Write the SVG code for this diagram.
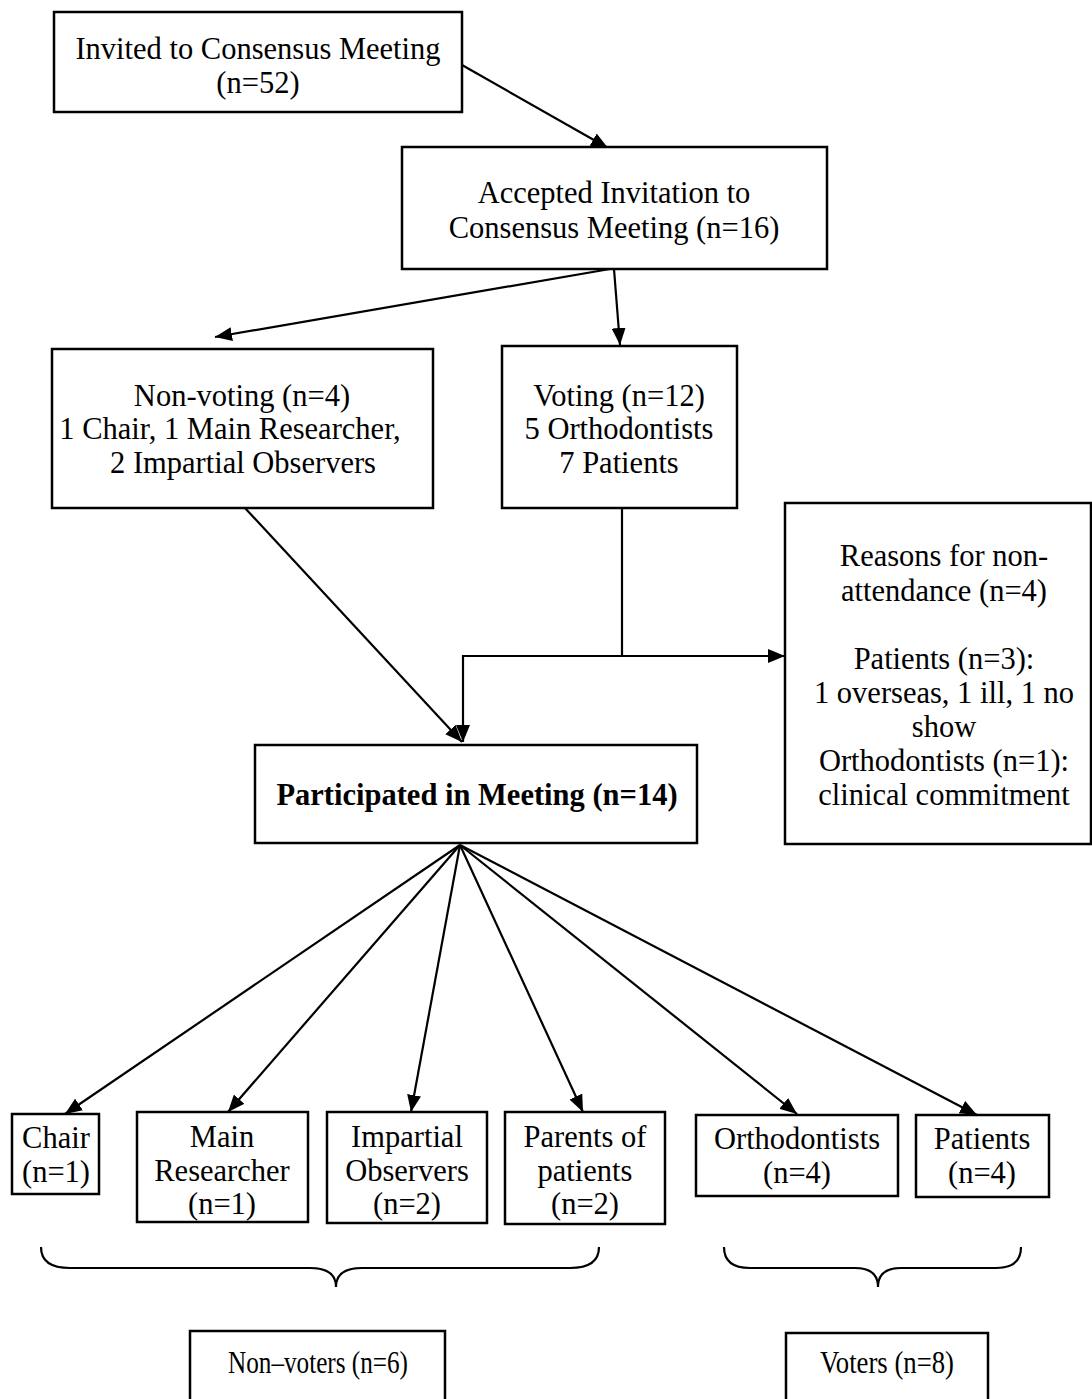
<svg xmlns="http://www.w3.org/2000/svg" width="1092" height="1399" viewBox="0 0 1092 1399">
<style>
.b{fill:#fff;stroke:#000;stroke-width:2.5}
.t{font-family:"Liberation Serif","Times New Roman",serif;font-size:30.5px;fill:#000;text-anchor:middle}
.bd{font-weight:bold}
.c{fill:none;stroke:#000;stroke-width:2.2}
</style>
<defs>
<marker id="ah" markerUnits="userSpaceOnUse" markerWidth="18" markerHeight="14" refX="17" refY="7" orient="auto">
<path d="M0,0 L17,7 L0,14 z" fill="#000"/>
</marker>
</defs>
<rect width="1092" height="1399" fill="#fff"/>
<g id="connectors">
<line class="c" x1="462" y1="65" x2="608" y2="148" marker-end="url(#ah)"/>
<line class="c" x1="610" y1="269" x2="215" y2="337" marker-end="url(#ah)"/>
<line class="c" x1="614" y1="269" x2="620" y2="345" marker-end="url(#ah)"/>
<line class="c" x1="245" y1="508" x2="462" y2="742" marker-end="url(#ah)"/>
<line class="c" x1="622" y1="508" x2="622" y2="656"/>
<line class="c" x1="462" y1="656" x2="785" y2="656" marker-end="url(#ah)"/>
<line class="c" x1="463" y1="655" x2="463" y2="742" marker-end="url(#ah)"/>
<line class="c" x1="460" y1="845" x2="65" y2="1114" marker-end="url(#ah)"/>
<line class="c" x1="460" y1="845" x2="228" y2="1112" marker-end="url(#ah)"/>
<line class="c" x1="460" y1="845" x2="411" y2="1112" marker-end="url(#ah)"/>
<line class="c" x1="460" y1="845" x2="583" y2="1112" marker-end="url(#ah)"/>
<line class="c" x1="460" y1="845" x2="797" y2="1114" marker-end="url(#ah)"/>
<line class="c" x1="460" y1="845" x2="977" y2="1115" marker-end="url(#ah)"/>
<path class="c" d="M41,1247 Q41,1268 70,1268 L310,1268 Q336,1268 336,1287 Q336,1268 362,1268 L570,1268 Q599,1268 599,1247"/>
<path class="c" d="M724,1247 Q724,1268 750,1268 L855,1268 Q878,1268 878,1287 Q878,1268 901,1268 L996,1268 Q1021,1268 1021,1247"/>
</g>
<g id="invited">
<rect class="b" x="54" y="12" width="408" height="100"/>
<text class="t" x="258" y="59">Invited to Consensus Meeting</text>
<text class="t" x="258" y="93">(n=52)</text>
</g>
<g id="accepted">
<rect class="b" x="402" y="147" width="425" height="122"/>
<text class="t" x="614" y="203">Accepted Invitation to</text>
<text class="t" x="614" y="238">Consensus Meeting (n=16)</text>
</g>
<g id="nonvoting">
<rect class="b" x="52" y="349" width="381" height="159"/>
<text class="t" x="242" y="406">Non-voting (n=4)</text>
<text class="t" x="230" y="439">1 Chair, 1 Main Researcher,</text>
<text class="t" x="243" y="473">2 Impartial Observers</text>
</g>
<g id="voting">
<rect class="b" x="502" y="346" width="235" height="162"/>
<text class="t" x="619" y="406">Voting (n=12)</text>
<text class="t" x="619" y="439">5 Orthodontists</text>
<text class="t" x="619" y="473">7 Patients</text>
</g>
<g id="reasons">
<rect class="b" x="785" y="503" width="306" height="341"/>
<text class="t" x="944" y="566">Reasons for non-</text>
<text class="t" x="944" y="601">attendance (n=4)</text>
<text class="t" x="944" y="669">Patients (n=3):</text>
<text class="t" x="944" y="703">1 overseas, 1 ill, 1 no</text>
<text class="t" x="944" y="737">show</text>
<text class="t" x="944" y="771">Orthodontists (n=1):</text>
<text class="t" x="944" y="805">clinical commitment</text>
</g>
<g id="participated">
<rect class="b" x="255" y="745" width="442" height="98"/>
<text class="t bd" x="477" y="805">Participated in Meeting (n=14)</text>
</g>
<g id="chair">
<rect class="b" x="12" y="1114" width="87" height="80"/>
<text class="t" x="56" y="1148">Chair</text>
<text class="t" x="56" y="1182">(n=1)</text>
</g>
<g id="researcher">
<rect class="b" x="137" y="1112" width="171" height="110"/>
<text class="t" x="222" y="1147">Main</text>
<text class="t" x="222" y="1181">Researcher</text>
<text class="t" x="222" y="1214">(n=1)</text>
</g>
<g id="observers">
<rect class="b" x="327" y="1112" width="160" height="111"/>
<text class="t" x="407" y="1147">Impartial</text>
<text class="t" x="407" y="1181">Observers</text>
<text class="t" x="407" y="1214">(n=2)</text>
</g>
<g id="parents">
<rect class="b" x="505" y="1112" width="160" height="112"/>
<text class="t" x="585" y="1147">Parents of</text>
<text class="t" x="585" y="1181">patients</text>
<text class="t" x="585" y="1214">(n=2)</text>
</g>
<g id="orthodontists">
<rect class="b" x="696" y="1115" width="202" height="81"/>
<text class="t" x="797" y="1149">Orthodontists</text>
<text class="t" x="797" y="1183">(n=4)</text>
</g>
<g id="patients">
<rect class="b" x="916" y="1115" width="133" height="82"/>
<text class="t" x="982" y="1149">Patients</text>
<text class="t" x="982" y="1183">(n=4)</text>
</g>
<g id="nonvoters">
<rect class="b" x="190" y="1331" width="255" height="72"/>
<text class="t" x="318" y="1373" textLength="180" lengthAdjust="spacingAndGlyphs">Non–voters (n=6)</text>
</g>
<g id="voters">
<rect class="b" x="786" y="1333" width="202" height="70"/>
<text class="t" x="887" y="1373" textLength="134" lengthAdjust="spacingAndGlyphs">Voters (n=8)</text>
</g>
</svg>
